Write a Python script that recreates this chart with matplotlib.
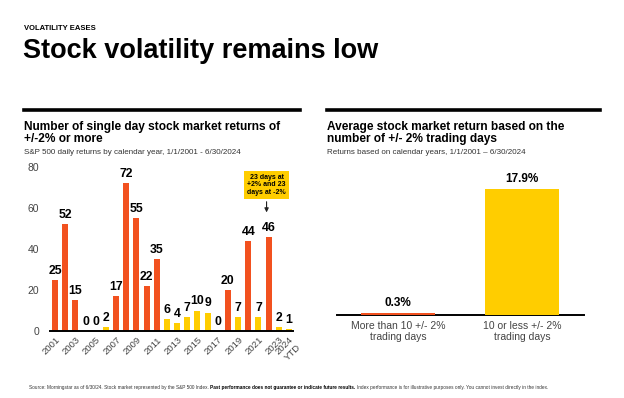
import matplotlib
matplotlib.use("Agg")
import matplotlib.pyplot as plt

plt.rcParams['font.family'] = ['Liberation Sans', 'DejaVu Sans']

# left chart: days with +/-2% moves per year
years = [str(y) for y in range(2001, 2024)] + ["2024\nYTD"]
days = [25, 52, 15, 0, 0, 2, 17, 72, 55, 22, 35, 6, 4, 7, 10, 9, 0, 20, 7, 44, 7, 46, 2, 1]

# right chart: average return by bucket
buckets = ["More than 10 +/- 2%\ntrading days", "10 or less +/- 2%\ntrading days"]
avg_return = [0.3, 17.9]

footer = [
    ("Source: Morningstar as of 6/30/24. Stock market represented by the S&P 500 Index. ", 'normal'),
    ("Past performance does not guarantee or indicate future results. ", 'bold'),
    ("Index performance is for illustrative purposes only. You cannot invest directly in the index.", 'normal'),
]

RED = "#F2511F"
YELLOW = "#FFCD00"
GREY = "#444444"

fig = plt.figure(figsize=(6.24, 3.98), dpi=100)
W, H = 624, 398


def fx(px):
    return px / W


def fy(py):
    return 1 - py / H


# header
fig.text(fx(24), fy(28), "VOLATILITY EASES", fontsize=5.5, fontweight='bold', va='center')
fig.text(fx(23), fy(51), "Stock volatility remains low", fontsize=19.5, fontweight='bold', va='center')

for x0, x1 in [(24, 300), (327, 600)]:
    fig.add_artist(plt.Line2D([fx(x0), fx(x1)], [fy(110), fy(110)], color='black', lw=2.6))

fig.text(fx(24), fy(133), "Number of single day stock market returns of\n+/-2% or more",
         fontsize=8.6, fontweight='bold', va='center', linespacing=1.1)
fig.text(fx(24), fy(152), "S&P 500 daily returns by calendar year, 1/1/2001 - 6/30/2024",
         fontsize=5.8, va='center', color='#333333')
fig.text(fx(327), fy(133), "Average stock market return based on the\nnumber of +/- 2% trading days",
         fontsize=8.6, fontweight='bold', va='center', linespacing=1.1)
fig.text(fx(327), fy(152), "Returns based on calendar years, 1/1/2001 \u2013 6/30/2024",
         fontsize=5.8, va='center', color='#333333')

# left chart
ax1 = fig.add_axes([fx(50), fy(331), fx(293) - fx(50), fy(167) - fy(331)])
xs = list(range(len(days)))
colors = [RED if d > 10 else YELLOW for d in days]
ax1.bar(xs, days, width=0.6, color=colors)
for x, d in zip(xs, days):
    ax1.text(x, d + 1.5, str(d), ha='center', va='bottom', fontsize=8.8, fontweight='bold')
ax1.set_xlim(-0.5, 23.4)
ax1.set_ylim(0, 80)
ax1.set_yticks([0, 20, 40, 60, 80])
ax1.tick_params(axis='y', length=0, labelsize=7.5, labelcolor=GREY, pad=8)
ticks = [i for i in xs if i % 2 == 0] + [23]
ax1.set_xticks(ticks)
ax1.set_xticklabels([years[i] for i in ticks], rotation=45, ha='right',
                    rotation_mode='anchor', fontsize=6.8, color=GREY)
ax1.tick_params(axis='x', length=0, pad=3)
for s in ['top', 'right', 'left']:
    ax1.spines[s].set_visible(False)
ax1.spines['bottom'].set_linewidth(1.4)
ax1.patch.set_alpha(0)

ax1.annotate("23 days at\n+2% and 23\ndays at -2%", xy=(20.8, 56.5), xytext=(20.8, 71.3),
             ha='center', va='center', fontsize=5, fontweight='bold', linespacing=1.1,
             bbox=dict(boxstyle='square,pad=0.45', fc=YELLOW, ec='none'),
             arrowprops=dict(arrowstyle='-|>', color='#222222', lw=0.8, mutation_scale=6))

# right chart
ax2 = fig.add_axes([fx(337), fy(315), fx(584) - fx(337), (126 / 17.9 * 20) / H])
ax2.bar([0, 1], avg_return, width=0.6, color=[RED, YELLOW], zorder=3)
for x, v in zip([0, 1], avg_return):
    ax2.text(x, v + 0.6, f"{v}%", ha='center', va='bottom', fontsize=8.5, fontweight='bold')
ax2.set_xlim(-0.49, 1.5)
ax2.set_ylim(0, 20)
ax2.set_yticks([])
ax2.set_xticks([0, 1])
ax2.set_xticklabels(buckets, fontsize=7.5, color=GREY, linespacing=1.15)
ax2.tick_params(axis='x', length=0, pad=4)
for s in ['top', 'right', 'left']:
    ax2.spines[s].set_visible(False)
ax2.spines['bottom'].set_linewidth(1.4)
ax2.patch.set_alpha(0)

# footer, pieces chained one after the other
renderer = fig.canvas.get_renderer()
x = fx(29)
for txt, wt in footer:
    t = fig.text(x, fy(388), txt, fontsize=3.4, va='center', fontweight=wt,
                 color='black' if wt == 'bold' else '#333333')
    bb = t.get_window_extent(renderer)
    x = bb.x1 / W

fig.savefig("out.png", dpi=100)
